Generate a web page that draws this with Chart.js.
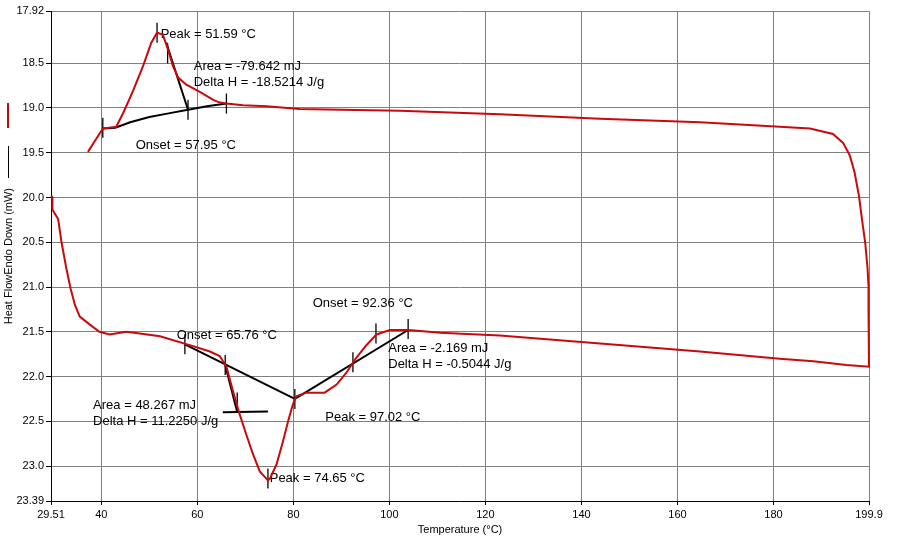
<!DOCTYPE html>
<html>
<head>
<meta charset="utf-8">
<script src="https://cdn.jsdelivr.net/npm/chart.js@4/dist/chart.umd.min.js"></script>
<style>
  html, body { margin: 0; padding: 0; background: #fff; }
  canvas { display: block; }
</style>
</head>
<body>
<canvas id="dsc" width="899" height="550"></canvas>
<script>
// axis ticks
const xTickValues = [29.51, 40, 60, 80, 100, 120, 140, 160, 180, 199.9];
const xTickLabels = ['29.51', '40', '60', '80', '100', '120', '140', '160', '180', '199.9'];
const yTickValues = [17.92, 18.5, 19.0, 19.5, 20.0, 20.5, 21.0, 21.5, 22.0, 22.5, 23.0, 23.39];
const yTickLabels = ['17.92', '18.5', '19.0', '19.5', '20.0', '20.5', '21.0', '21.5', '22.0', '22.5', '23.0', '23.39'];

// heat flow trace, upper branch (left -> right)
const upperTemp = [37.2, 40.3, 43.1, 44.6, 46.6, 48.7, 50.4, 51.6, 52.8, 53.9, 54.9, 56.0, 57.7, 60.5, 63.3, 64.7, 66.05, 69.5, 74.4, 81.3, 90, 102.2, 123, 143.9, 164.7, 181.3, 187.6, 192.4, 194.5, 195.9, 196.9, 197.8, 198.5, 199.1, 199.6, 199.8, 199.8, 199.9];
const upperFlow = [19.49, 19.23, 19.21, 19.05, 18.81, 18.53, 18.27, 18.16, 18.18, 18.35, 18.53, 18.66, 18.74, 18.82, 18.91, 18.94, 18.95, 18.97, 18.98, 19.01, 19.02, 19.03, 19.07, 19.12, 19.16, 19.21, 19.23, 19.29, 19.39, 19.53, 19.72, 19.98, 20.27, 20.50, 20.79, 20.99, 21.27, 21.89];
// heat flow trace, lower branch (right -> left)
const lowerTemp = [199.9, 195.2, 188.3, 181.3, 164.7, 143.9, 123, 110.6, 104.0, 100.1, 97.3, 95.2, 93.1, 91.0, 89.0, 86.5, 82.7, 80.6, 79.9, 78.9, 77.85, 76.5, 75.1, 74.7, 73.0, 71.6, 70.2, 68.8, 67.4, 66.05, 64.65, 62.6, 59.1, 52.2, 48.0, 45.2, 41.7, 39.6, 37.6, 35.5, 34.5, 33.6, 32.7, 31.7, 31.0, 30.3, 29.8, 29.8, 29.6];
const lowerFlow = [21.89, 21.87, 21.83, 21.80, 21.72, 21.63, 21.54, 21.51, 21.48, 21.48, 21.53, 21.65, 21.79, 21.96, 22.09, 22.18, 22.18, 22.22, 22.31, 22.50, 22.72, 22.98, 23.14, 23.16, 23.06, 22.87, 22.65, 22.42, 22.16, 21.89, 21.77, 21.72, 21.66, 21.55, 21.52, 21.50, 21.53, 21.50, 21.42, 21.33, 21.20, 21.02, 20.79, 20.50, 20.24, 20.18, 20.13, 20.00, 19.98];

// analysis construction lines
const baseTemp = [40.3, 42.9, 46, 50, 54, 58.05, 62, 66.05];
const baseFlow = [19.23, 19.22, 19.16, 19.10, 19.06, 19.02, 18.98, 18.95];
const tangTemp = [53.5, 58.05];
const tangFlow = [18.27, 19.02];
const lowTang1Temp = [57.4, 80.3];
const lowTang1Flow = [21.64, 22.25];
const lowTang2Temp = [80.3, 103.9];
const lowTang2Flow = [22.25, 21.48];
const steepTemp = [65.8, 68.3];
const steepFlow = [21.87, 22.40];
const flatTemp = [65.3, 74.7];
const flatFlow = [22.40, 22.39];

// small vertical markers
const markTemp = [40.3, 51.6, 53.8, 58.05, 66.05, 57.4, 65.8, 68.3, 74.7, 80.3, 92.4, 97.2, 103.9];
const markFlow = [19.22, 18.16, 18.39, 19.02, 18.95, 21.64, 21.87, 22.29, 23.14, 22.25, 21.84, 21.52, 21.47];

// annotation texts and their anchors
const noteText = ['Peak = 51.59 °C', 'Area = -79.642 mJ', 'Delta H = -18.5214 J/g', 'Onset = 57.95 °C',
  'Onset = 65.76 °C', 'Onset = 92.36 °C', 'Area = -2.169 mJ', 'Delta H = -0.5044 J/g',
  'Area = 48.267 mJ', 'Delta H = 11.2250 J/g', 'Peak = 97.02 °C', 'Peak = 74.65 °C'];
const noteTemp = [52.36, 59.24, 59.24, 47.16, 55.70, 84.03, 99.76, 99.76, 38.28, 38.28, 86.64, 75.07];
const noteFlow = [18.174, 18.541, 18.719, 19.413, 21.541, 21.18, 21.69, 21.869, 22.319, 22.502, 22.452, 23.143];

const pts = (xs, ys) => xs.map((x, i) => ({ x: x, y: ys[i] }));
const REGULAR = "'Liberation Sans', Arial, sans-serif";

function blackLine(xs, ys){
  return { data: pts(xs, ys), showLine: true, borderColor: '#000', borderWidth: 2,
           pointRadius: 0, tension: 0, clip: false };
}

const notesPlugin = {
  id: 'notes',
  beforeDatasetsDraw(chart){
    const ctx = chart.ctx, xs = chart.scales.x, ys = chart.scales.y;
    ctx.save();
    ctx.font = '13px ' + REGULAR;
    ctx.fillStyle = '#000';
    ctx.textAlign = 'left';
    ctx.textBaseline = 'middle';
    noteText.forEach((t, i) => {
      ctx.fillText(t, xs.getPixelForValue(noteTemp[i]), ys.getPixelForValue(noteFlow[i]));
    });
    ctx.restore();
  },
  afterDraw(chart){
    const ctx = chart.ctx, a = chart.chartArea;
    ctx.save();
    ctx.fillStyle = '#000';
    ctx.font = '11px ' + REGULAR;
    ctx.textAlign = 'center';
    ctx.textBaseline = 'middle';
    ctx.fillText('Temperature (°C)', (a.left + a.right) / 2, 530);
    // rotated y title with its line keys
    const cy = (a.top + a.bottom) / 2;
    ctx.translate(9, cy);
    ctx.rotate(-Math.PI / 2);
    ctx.fillText('Heat FlowEndo Down (mW)', 0, 0);
    ctx.restore();
    ctx.save();
    ctx.lineWidth = 2;
    ctx.strokeStyle = '#b80f14';
    ctx.beginPath(); ctx.moveTo(8, 103); ctx.lineTo(8, 128); ctx.stroke();
    ctx.lineWidth = 1;
    ctx.strokeStyle = '#000';
    ctx.beginPath(); ctx.moveTo(8.5, 146); ctx.lineTo(8.5, 178); ctx.stroke();
    ctx.restore();
  }
};

new Chart(document.getElementById('dsc'), {
  type: 'scatter',
  data: {
    datasets: [
      { data: pts(upperTemp.concat(lowerTemp), upperFlow.concat(lowerFlow)), showLine: true,
        borderColor: '#c80a0a', borderWidth: 2, pointRadius: 0, tension: 0, clip: false },
      blackLine(baseTemp, baseFlow),
      blackLine(tangTemp, tangFlow),
      blackLine(lowTang1Temp, lowTang1Flow),
      blackLine(lowTang2Temp, lowTang2Flow),
      blackLine(steepTemp, steepFlow),
      blackLine(flatTemp, flatFlow),
      { data: pts(markTemp, markFlow), showLine: false, pointStyle: 'line', rotation: 90,
        pointRadius: 10, pointBorderColor: '#000', pointBorderWidth: 1.3, clip: false }
    ]
  },
  options: {
    responsive: false,
    animation: false,
    events: [],
    layout: { padding: { top: 8, right: 30, left: 0, bottom: 0 } },
    plugins: { legend: { display: false }, tooltip: { enabled: false } },
    scales: {
      x: {
        type: 'linear', min: 29.51, max: 199.9,
        afterFit: s => { s.height = 49; },
        afterBuildTicks: s => { s.ticks = xTickValues.map(v => ({ value: v })); },
        ticks: { autoSkip: false, maxRotation: 0, padding: 3, color: '#000',
                 font: { family: REGULAR, size: 11 },
                 callback: (v, i) => xTickLabels[i] },
        grid: { color: '#808080', lineWidth: 1, tickLength: 4, tickColor: '#000' },
        border: { color: '#000', width: 1 }
      },
      y: {
        type: 'linear', reverse: true, min: 17.92, max: 23.39,
        afterFit: s => { s.width = 51; },
        afterBuildTicks: s => { s.ticks = yTickValues.map(v => ({ value: v })); },
        ticks: { autoSkip: false, padding: 2, color: '#000',
                 font: { family: REGULAR, size: 11 },
                 callback: (v, i) => yTickLabels[i] },
        grid: { color: '#808080', lineWidth: 1, tickLength: 5, tickColor: '#000' },
        border: { color: '#000', width: 1 }
      }
    }
  },
  plugins: [notesPlugin]
});
</script>
</body>
</html>
